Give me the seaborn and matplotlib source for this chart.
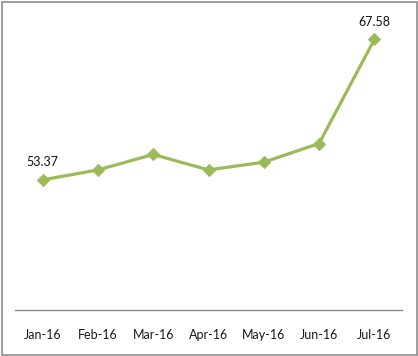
import matplotlib
matplotlib.use("Agg")
import matplotlib.pyplot as plt
import seaborn as sns
import pandas as pd
from matplotlib.patches import Rectangle

months = ["Jan-16", "Feb-16", "Mar-16", "Apr-16", "May-16", "Jun-16", "Jul-16"]
values = [53.37, 54.38, 55.94, 54.38, 55.16, 57.05, 67.58]
labeled = {0: "53.37", 6: "67.58"}

df = pd.DataFrame({"month": months, "value": values})

sns.set_style("white")
plt.rcParams["font.family"] = ["Lato", "DejaVu Sans"]

fig = plt.figure(figsize=(4.18, 3.56), dpi=100)
W, H = 418, 356
ax = fig.add_axes([15 / W, (H - 310) / H, (402 - 15) / W, (310 - 13.6) / H])

green = "#9BBB59"
sns.lineplot(data=df, x="month", y="value", ax=ax, color=green, linewidth=2.3,
             marker="D", markersize=6.5, markeredgecolor=green, sort=False)

ax.set_xlim(-0.5, len(months) - 0.5)
ax.set_ylim(40.2, 70.2)
ax.set_xlabel("")
ax.set_ylabel("")
ax.set_yticks([])
ax.tick_params(axis="x", length=0, pad=14, labelsize=9, colors="#1a1a1a")
for s in ["top", "left", "right"]:
    ax.spines[s].set_visible(False)
ax.spines["bottom"].set_color("#8c8c8c")
ax.spines["bottom"].set_linewidth(1.0)

for i, t in labeled.items():
    ax.annotate(t, (i, values[i]), xytext=(0, 8.5), textcoords="offset points",
                ha="center", va="bottom", fontsize=9, color="#111111")

fig.patches.append(Rectangle((1.5 / W, 1.5 / H), (W - 3) / W, (H - 3) / H,
                             transform=fig.transFigure, fill=False,
                             edgecolor="#8c8c8c", linewidth=1.2))

fig.savefig("out.png", dpi=100)
